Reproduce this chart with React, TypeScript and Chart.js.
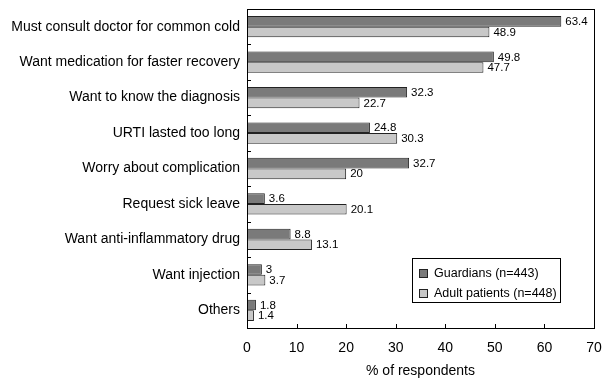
import { useEffect, useRef } from "react";
import { Chart, registerables } from "chart.js";
Chart.register(...registerables);

const categories = [
  "Must consult doctor for common cold",
  "Want medication for faster recovery",
  "Want to know the diagnosis",
  "URTI lasted too long",
  "Worry about complication",
  "Request sick leave",
  "Want anti-inflammatory drug",
  "Want injection",
  "Others",
];
const guardians = [63.4, 49.8, 32.3, 24.8, 32.7, 3.6, 8.8, 3, 1.8];
const adults = [48.9, 47.7, 22.7, 30.3, 20, 20.1, 13.1, 3.7, 1.4];
const seriesNames = ["Guardians (n=443)", "Adult patients (n=448)"];
const xMin = 0;
const xMax = 70;
const xStep = 10;
const xTitle = "% of respondents";

const FONT = "'Liberation Sans', Arial, sans-serif";
const DARK = "#7a7a7a";
const LIGHT = "#c8c8c8";
const EDGE = "#222";

const decorPlugin = {
  id: "decor",
  afterDatasetsDraw(chart: any) {
    const ctx = chart.ctx;
    const a = chart.chartArea;
    const xs = chart.scales.x;
    ctx.save();
    // frame
    ctx.strokeStyle = "#000";
    ctx.lineWidth = 1;
    ctx.strokeRect(Math.round(a.left) + 0.5, Math.round(a.top) + 0.5, Math.round(a.right - a.left), Math.round(a.bottom - a.top));
    // y inside ticks at category boundaries
    const n = categories.length;
    const h = (a.bottom - a.top) / n;
    ctx.beginPath();
    for (let i = 1; i < n; i++) {
      const y = Math.round(a.top + i * h) + 0.5;
      ctx.moveTo(a.left, y);
      ctx.lineTo(a.left + 4, y);
    }
    // x inside ticks
    for (let v = xMin + xStep; v < xMax; v += xStep) {
      const x = Math.round(xs.getPixelForValue(v)) + 0.5;
      ctx.moveTo(x, a.bottom);
      ctx.lineTo(x, a.bottom - 4);
    }
    ctx.stroke();
    // value labels
    ctx.fillStyle = "#000";
    ctx.font = `11.5px ${FONT}`;
    ctx.textAlign = "left";
    ctx.textBaseline = "middle";
    chart.data.datasets.forEach((ds: any, di: number) => {
      const meta = chart.getDatasetMeta(di);
      meta.data.forEach((bar: any, i: number) => {
        ctx.fillText(String(ds.data[i]), bar.x + 4, bar.y + 0.5);
      });
    });
    // x title
    ctx.font = `14px ${FONT}`;
    ctx.textAlign = "center";
    ctx.fillText(xTitle, (a.left + a.right) / 2, 371);
    // legend
    const lx = 412, ly = 258, lw = 148, lh = 44;
    ctx.fillStyle = "#fff";
    ctx.fillRect(lx, ly, lw, lh);
    ctx.strokeStyle = "#000";
    ctx.strokeRect(lx + 0.5, ly + 0.5, lw, lh);
    const colors = [DARK, LIGHT];
    ctx.font = `12.5px ${FONT}`;
    ctx.textAlign = "left";
    seriesNames.forEach((name, i) => {
      const cy = ly + 15 + i * 20;
      ctx.fillStyle = colors[i];
      ctx.fillRect(lx + 7, cy - 4, 8, 8);
      ctx.strokeStyle = EDGE;
      ctx.strokeRect(lx + 7.5, cy - 3.5, 8, 8);
      ctx.fillStyle = "#000";
      ctx.fillText(name, lx + 22, cy + 0.5);
    });
    ctx.restore();
  },
};

export default function App() {
  const ref = useRef<HTMLCanvasElement | null>(null);
  useEffect(() => {
    if (!ref.current) return;
    const chart = new Chart(ref.current, {
      type: "bar",
      data: {
        labels: categories,
        datasets: [
          { label: seriesNames[0], data: guardians, backgroundColor: DARK, borderColor: EDGE, borderWidth: 1, borderSkipped: "start" as any },
          { label: seriesNames[1], data: adults, backgroundColor: LIGHT, borderColor: EDGE, borderWidth: 1, borderSkipped: "start" as any },
        ],
      },
      options: {
        indexAxis: "y",
        animation: false,
        responsive: false,
        maintainAspectRatio: false,
        layout: { padding: { top: 9, right: 19, bottom: 0, left: 0 } },
        datasets: { bar: { categoryPercentage: 0.6, barPercentage: 1 } },
        plugins: { legend: { display: false }, tooltip: { enabled: false } },
        scales: {
          x: {
            min: xMin,
            max: xMax,
            ticks: { stepSize: xStep, color: "#000", font: { family: FONT, size: 14 }, padding: 12, maxRotation: 0 },
            grid: { display: false, drawTicks: false },
            border: { display: false },
            afterFit: (s: any) => { s.height = 58; s.paddingLeft = 0; s.paddingRight = 0; },
          },
          y: {
            ticks: { color: "#000", font: { family: FONT, size: 14 }, padding: 7, autoSkip: false },
            grid: { display: false, drawTicks: false },
            border: { display: false },
            afterFit: (s: any) => { s.width = 247; s.paddingTop = 0; s.paddingBottom = 0; },
          },
        },
      },
      plugins: [decorPlugin],
    } as any);
    return () => chart.destroy();
  }, []);
  return (
    <div style={{ position: "absolute", left: 0, top: 0, width: 613, height: 386, background: "#fff" }}>
      <canvas ref={ref} width={613} height={386} style={{ width: 613, height: 386 }} />
    </div>
  );
}
